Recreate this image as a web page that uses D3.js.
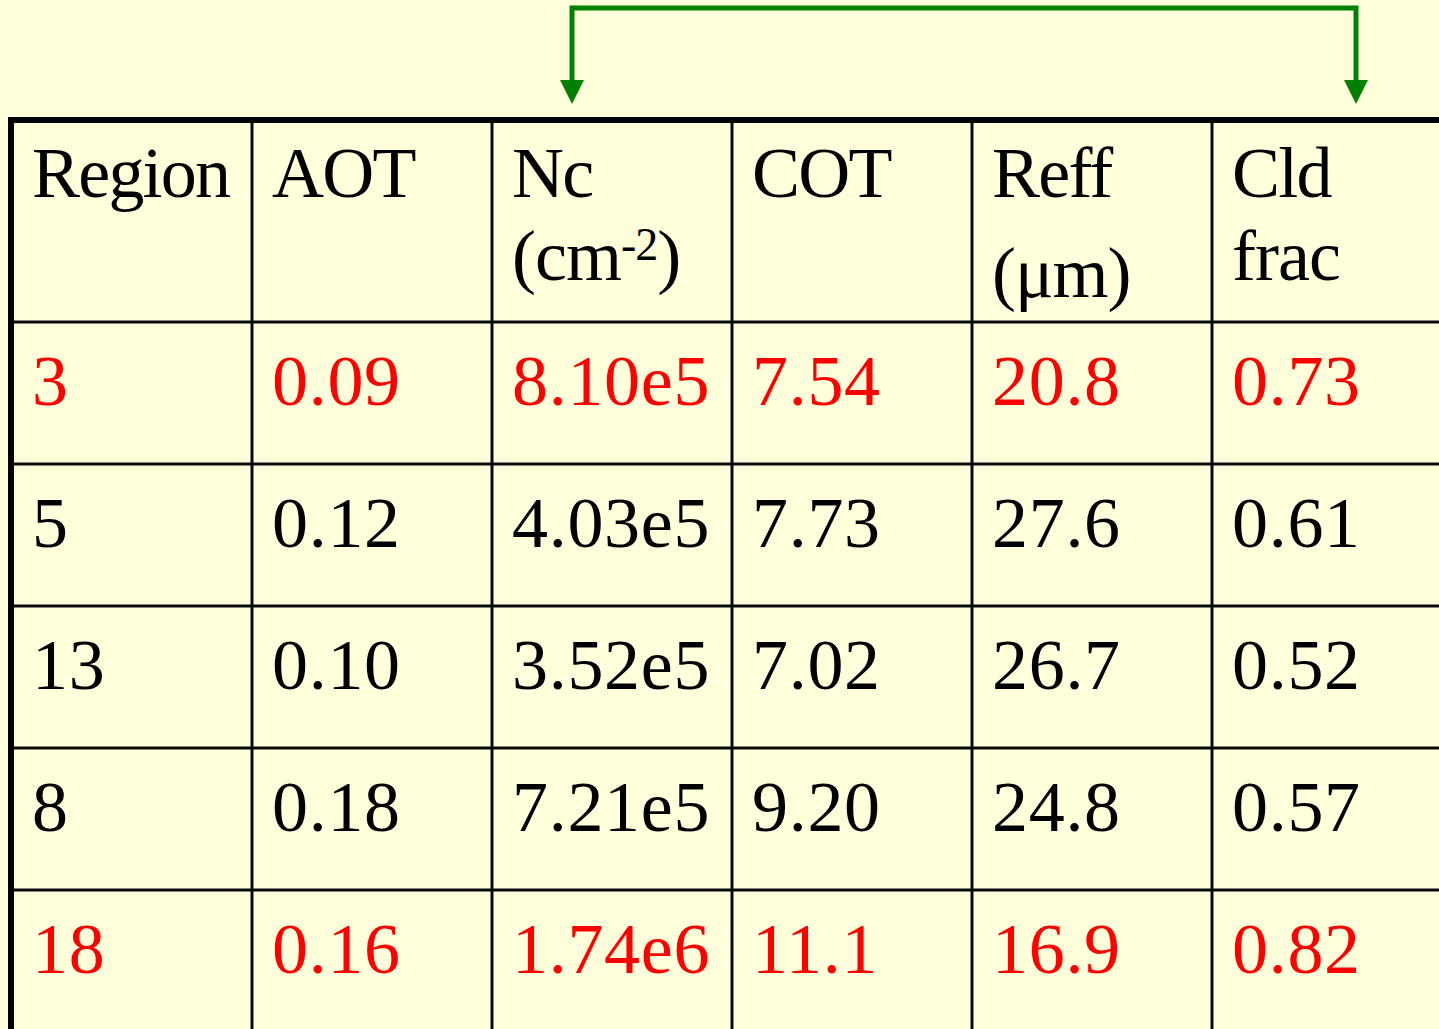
<!DOCTYPE html>
<html>
<head>
<meta charset="utf-8">
<script src="https://cdn.jsdelivr.net/npm/d3@7"></script>
<style>
  html, body { margin: 0; padding: 0; background: #FFFFDC; }
  svg { display: block; }
</style>
</head>
<body>
<svg id="chart" width="1439" height="1029"></svg>
<script>
// ---- data ----
const columns = ["Region", "AOT", "Nc", "COT", "Reff", "Cld frac"];
const headerLine1 = ["Region", "AOT", "Nc", "COT", "Reff", "Cld"];
const headerLine2 = ["", "", "(cm|-2|)", "", "(\u03bcm)", "frac"];
const regions = ["3", "5", "13", "8", "18"];
const aot = ["0.09", "0.12", "0.10", "0.18", "0.16"];
const nc = ["8.10e5", "4.03e5", "3.52e5", "7.21e5", "1.74e6"];
const cot = ["7.54", "7.73", "7.02", "9.20", "11.1"];
const reff = ["20.8", "27.6", "26.7", "24.8", "16.9"];
const cldFrac = ["0.73", "0.61", "0.52", "0.57", "0.82"];
const highlighted = ["3", "18"];
const arrowFrom = "Nc";
const arrowTo = "Cld frac";

// ---- layout ----
const W = 1439, H = 1029;
const svg = d3.select("#chart");
svg.append("rect").attr("width", W).attr("height", H).attr("fill", "#FFFFDC");

const tableLeft = 12, colW = 240;
const x = d3.scaleBand().domain(columns).range([tableLeft, tableLeft + colW * columns.length]).padding(0);
const headerTop = 120, headerH = 202, rowH = 142;
const rowIdx = d3.range(regions.length);
const y = d3.scaleLinear().domain([0, 1]).range([headerTop + headerH, headerTop + headerH + rowH]);

const rows = rowIdx.map(i => [regions[i], aot[i], nc[i], cot[i], reff[i], cldFrac[i]]);

const font = "'Liberation Serif', 'Times New Roman', serif";
const fs = 72;

// grid lines: horizontal row separators
svg.selectAll("line.hrow").data(rowIdx).join("line")
  .attr("class", "hrow")
  .attr("x1", tableLeft).attr("x2", W)
  .attr("y1", d => y(d)).attr("y2", d => y(d))
  .attr("stroke", "#0a0a0a").attr("stroke-width", 3);

// vertical column separators
svg.selectAll("line.vcol").data(columns.slice(1)).join("line")
  .attr("class", "vcol")
  .attr("x1", d => x(d)).attr("x2", d => x(d))
  .attr("y1", headerTop).attr("y2", H)
  .attr("stroke", "#0a0a0a").attr("stroke-width", 3);

// outer thick borders (top and left)
svg.append("line").attr("x1", tableLeft - 3).attr("x2", W).attr("y1", headerTop).attr("y2", headerTop)
  .attr("stroke", "#000").attr("stroke-width", 6);
svg.append("line").attr("x1", tableLeft - 1).attr("x2", tableLeft - 1).attr("y1", headerTop - 3).attr("y2", H)
  .attr("stroke", "#000").attr("stroke-width", 6);

// header text
const textPad = 20;
svg.selectAll("text.h1").data(columns).join("text")
  .attr("class", "h1")
  .attr("x", d => x(d) + textPad)
  .attr("y", headerTop + 77)
  .attr("font-family", font).attr("font-size", fs).attr("fill", "#000")
  .attr("letter-spacing", -1.8)
  .text((d, i) => headerLine1[i]);

columns.forEach((c, i) => {
  const s = headerLine2[i];
  if (!s) return;
  const base = c === "Reff" ? headerTop + 177 : headerTop + 160;
  const t = svg.append("text")
    .attr("x", x(c) + textPad).attr("y", base)
    .attr("font-family", font).attr("font-size", fs).attr("fill", "#000")
    .attr("letter-spacing", -1);
  if (s.includes("|")) {
    const parts = s.split("|");
    t.append("tspan").text(parts[0]);
    t.append("tspan").attr("font-size", 46).attr("dy", -20).text(parts[1]);
    t.append("tspan").attr("dy", 20).text(parts[2]);
  } else {
    t.text(s);
  }
});

// body text
rows.forEach((r, i) => {
  const color = highlighted.includes(regions[i]) ? "#FF0000" : "#000";
  svg.selectAll(null).data(r).join("text")
    .attr("x", (d, j) => x(columns[j]) + textPad)
    .attr("y", y(i) + 83)
    .attr("font-family", font).attr("font-size", fs).attr("fill", color)
    .attr("letter-spacing", 0.7)
    .text(d => d);
});

// green bracket arrow from Nc to Cld frac
const green = "#008000";
const ax1 = x(arrowFrom) + 80, ax2 = x(arrowTo) + 144;
const topY = 8, tipY = 104, headBase = 80;
svg.append("path")
  .attr("d", d3.line()([[ax1, headBase + 2], [ax1, topY], [ax2, topY], [ax2, headBase + 2]]))
  .attr("fill", "none").attr("stroke", green).attr("stroke-width", 5).attr("stroke-linejoin", "miter");
[ax1, ax2].forEach(ax => {
  svg.append("path")
    .attr("d", d3.line()([[ax - 12, headBase], [ax + 12, headBase], [ax, tipY]]) + "Z")
    .attr("fill", green);
});
</script>
</body>
</html>
